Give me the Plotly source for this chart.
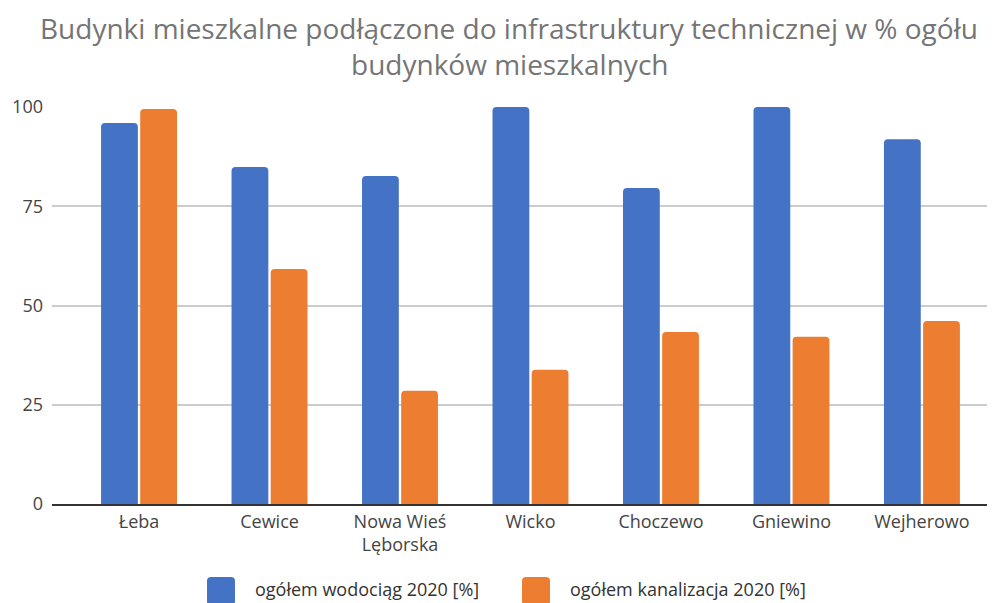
import plotly.graph_objects as go

categories = ["Łeba", "Cewice", "Nowa Wieś<br>Lęborska", "Wicko", "Choczewo", "Gniewino", "Wejherowo"]
wodociag = [96.0, 84.9, 82.6, 100.0, 79.6, 100.0, 91.9]
kanalizacja = [99.5, 59.2, 28.5, 33.8, 43.3, 42.1, 46.1]
series_names = ["ogółem wodociąg 2020 [%]", "ogółem kanalizacja 2020 [%]"]
colors = ["#4472C4", "#ED7D31"]
y_ticks = [0, 25, 50, 75, 100]
title_lines = ["Budynki mieszkalne podłączone do infrastruktury technicznej w % ogółu",
               "budynków mieszkalnych"]

# page body has an 8px margin: figure is sized so it fills the 995x603 window
W, H = 987, 595
ML, MR, MT, MB = 44, 0, 99, 99
PW, PH = W - ML - MR, H - MT - MB


def px_to_paper_x(sx):
    return (sx - 8 - ML) / PW


def px_to_paper_y(sy):
    return (H - MB - (sy - 8)) / PH


def rounded_rect(x0, y0, x1, y1, r):
    X0, X1 = px_to_paper_x(x0), px_to_paper_x(x1)
    Y0, Y1 = px_to_paper_y(y0), px_to_paper_y(y1)  # Y0 top, Y1 bottom
    rx, ry = r / PW, r / PH
    return (f"M {X0+rx},{Y0} L {X1-rx},{Y0} Q {X1},{Y0} {X1},{Y0-ry} "
            f"L {X1},{Y1+ry} Q {X1},{Y1} {X1-rx},{Y1} L {X0+rx},{Y1} "
            f"Q {X0},{Y1} {X0},{Y1+ry} L {X0},{Y0-ry} Q {X0},{Y0} {X0+rx},{Y0} Z")


fig = go.Figure()
for name, vals, col in zip(series_names, [wodociag, kanalizacja], colors):
    fig.add_trace(go.Bar(
        x=list(range(len(categories))), y=vals, name=name, showlegend=False,
        marker=dict(color=col, cornerradius=4, line=dict(width=0)),
    ))

# legend swatches and labels
legend_swatch_x = [(207, 235), (522, 550)]
legend_text_x = [253, 568]
shapes = []
annotations = []
for (sx0, sx1), tx, name, col in zip(legend_swatch_x, legend_text_x, series_names, colors):
    shapes.append(dict(type="path", xref="paper", yref="paper",
                       path=rounded_rect(sx0, 577, sx1, 605, 4),
                       fillcolor=col, line=dict(width=0), layer="above"))
    annotations.append(dict(text=name, xref="paper", yref="paper",
                            x=px_to_paper_x(tx), y=px_to_paper_y(589),
                            xanchor="left", yanchor="middle", showarrow=False,
                            font=dict(size=18, color="#333333")))

# two-line chart title
for line, cy in zip(title_lines, [28.5, 64]):
    annotations.append(dict(text=line, xref="paper", yref="paper",
                            x=px_to_paper_x(509), y=px_to_paper_y(cy),
                            xanchor="center", yanchor="middle", showarrow=False,
                            borderpad=0,
                            font=dict(size=28, color="#757575")))

fig.update_layout(
    width=W, height=H,
    paper_bgcolor="white", plot_bgcolor="white",
    font=dict(family="Open Sans, Noto Sans, sans-serif", color="#444444"),
    margin=dict(l=ML, r=MR, t=MT, b=MB, autoexpand=False),
    barmode="group", bargap=0.40, bargroupgap=0.06,
    showlegend=False,
    shapes=shapes, annotations=annotations,
    xaxis=dict(
        tickmode="array", tickvals=list(range(len(categories))), ticktext=categories,
        range=[-0.667, 6.56], showgrid=False, showline=True, linecolor="#333333",
        linewidth=2, ticks="", tickfont=dict(size=18, color="#444444"),
    ),
    yaxis=dict(
        range=[0, 100], tickvals=y_ticks, showgrid=True, gridcolor="#cccccc",
        gridwidth=2, zeroline=False, showline=False, ticks="",
        tickfont=dict(size=18, color="#444444"), ticklabelstandoff=8,
    ),
)

fig.write_html("out.html")
